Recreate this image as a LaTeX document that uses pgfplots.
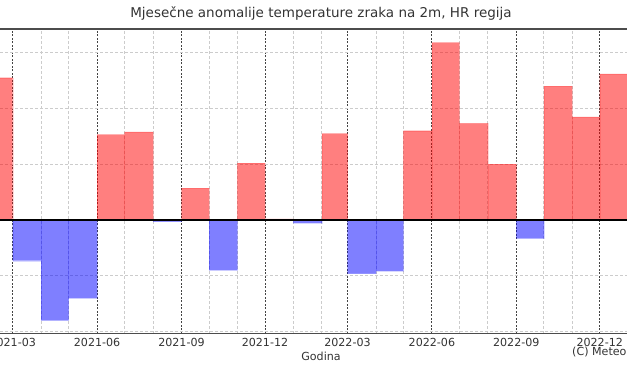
\documentclass[border=0pt]{standalone}
\usepackage{fontspec}
\setmainfont{DejaVu Sans}
\usepackage{pgfplots}
\pgfplotsset{compat=1.18}
\definecolor{txt}{HTML}{333333}
\definecolor{gridlight}{HTML}{CCCCCC}
\definecolor{gridmajor}{HTML}{444444}
\begin{document}
\begin{tikzpicture}
\useasboundingbox (0pt,0pt) rectangle (627pt,376pt);
\clip (0pt,0pt) rectangle (627pt,376pt);
\begin{axis}[
  at={(-20pt,42.5pt)}, anchor=south west,
  scale only axis, width=682pt, height=304.5pt,
  xmin=-35.7, xmax=707.9, ymin=-2.034, ymax=3.423,
  axis line style={draw=black!70, line width=1.1pt},
  xtick={0,92,184,275,365,457,549,640},
  xticklabels={2021-03,2021-06,2021-09,2021-12,2022-03,2022-06,2022-09,2022-12},
  minor xtick={-28,31,61,122,153,214,245,306,337,396,426,487,518,579,610,671},
  ytick={-2,-1,0,1,2,3}, yticklabels={},
  major tick length=0pt, minor tick length=0pt,
  xmajorgrids, xminorgrids, ymajorgrids,
  major x grid style={draw=gridmajor, line width=0.8pt, dash pattern=on 2pt off 1.5pt},
  minor x grid style={draw=gridlight, line width=0.8pt, dash pattern=on 3pt off 2pt},
  major y grid style={draw=gridlight, line width=0.8pt, dash pattern=on 3pt off 2pt},
  /pgf/number format/assume math mode=true,
  xticklabel style={font=\fontsize{11.1}{13}\selectfont, text=txt, anchor=north, inner sep=0pt, yshift=-4.5pt},
  title={Mjesečne anomalije temperature zraka na 2m, HR regija},
  title style={at={(axis description cs:0.5,1.0187)}, anchor=base, inner sep=0pt, font=\fontsize{13.5}{16}\selectfont, text=txt},
  xlabel={Godina},
  xlabel style={at={(axis description cs:0.5,-0.0887)}, anchor=base, inner sep=0pt, font=\fontsize{11.1}{13}\selectfont, text=txt},
]
% positive anomalies (month start in days from 2021-03-01, value)
\addplot[ybar interval, fill=red, fill opacity=0.5, draw=red, draw opacity=0.15] coordinates {
(-28,2.55) (0,0) (31,0) (61,0) (92,1.53) (122,1.58) (153,0) (184,0.57) (214,0) (245,1.02)
(275,0.02) (306,0) (337,1.55) (365,0) (396,0) (426,1.60) (457,3.18) (487,1.73) (518,1.00)
(549,0) (579,2.40) (610,1.85) (640,2.62) (671,0)};
% negative anomalies
\addplot[ybar interval, fill=blue, fill opacity=0.5, draw=blue, draw opacity=0.15] coordinates {
(-28,0) (0,-0.73) (31,-1.80) (61,-1.40) (92,0) (122,0) (153,-0.03) (184,0) (214,-0.90) (245,0)
(275,0) (306,-0.05) (337,0) (365,-0.96) (396,-0.91) (426,0) (457,0) (487,0) (518,0)
(549,-0.33) (579,0) (610,0) (640,0) (671,0)};
\addplot[black, line width=1.2pt] coordinates {(-100,0) (800,0)};
\end{axis}
\node[anchor=base west, inner sep=0pt, font=\fontsize{11.1}{13}\selectfont, text=txt] at (572pt,20.5pt) {(C) Meteo};
\end{tikzpicture}
\end{document}
